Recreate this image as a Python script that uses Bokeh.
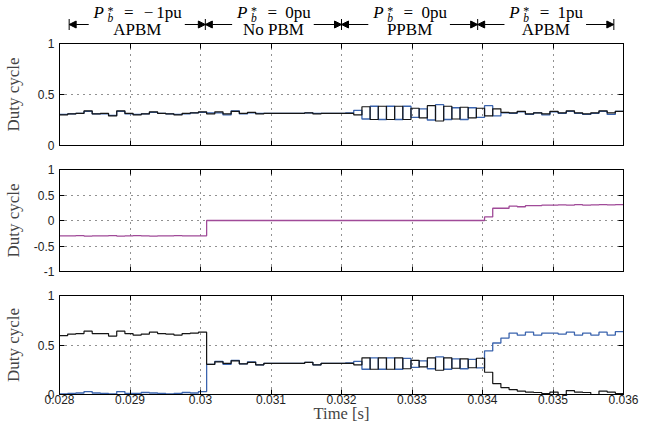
import numpy as np
from bokeh.plotting import figure
from bokeh.layouts import column
from bokeh.models import Range1d, FixedTicker, LinearAxis, Label, Arrow, NormalHead
from bokeh.core.properties import value
from bokeh.embed import file_html
from bokeh.resources import INLINE

# ---------------- data ----------------
t_start = 0.028
t_end = 0.036
n_steps = 69
x_ticks = [0.028, 0.029, 0.030, 0.031, 0.032, 0.033, 0.034, 0.035, 0.036]
x_tick_labels = ["0.028", "0.029", "0.03", "0.031", "0.032", "0.033", "0.034", "0.035", "0.036"]

ya_ticks = [0, 0.5, 1]
ya_labels = ["0", "0.5", "1"]
yb_ticks = [-1, -0.5, 0, 0.5, 1]
yb_labels = ["-1", "-0.5", "0", "0.5", "1"]

seg_bounds = [0.028, 0.030, 0.032, 0.034, 0.036]
seg_power = ["\u22121pu", "0pu", "0pu", "1pu"]
seg_mode = ["APBM", "No PBM", "PPBM", "APBM"]
panel_tags = ["(a)", "(b)", "(c)"]

a_black = [0.30, 0.31, 0.315, 0.34, 0.31, 0.315, 0.29, 0.34, 0.315, 0.30, 0.31, 0.33, 0.315, 0.31, 0.30, 0.315, 0.32, 0.33,
           0.31, 0.33, 0.31, 0.335, 0.315, 0.325, 0.31, 0.315, 0.315, 0.315, 0.315, 0.315, 0.32, 0.31, 0.315, 0.315, 0.315, 0.315,
           0.30, 0.38, 0.255, 0.385, 0.255, 0.385, 0.255, 0.365, 0.27, 0.39, 0.24, 0.385, 0.26, 0.375, 0.27, 0.365, 0.29, 0.36,
           0.325, 0.32, 0.335, 0.31, 0.32, 0.31, 0.335, 0.32, 0.34, 0.32, 0.31, 0.32, 0.34, 0.32, 0.335]
a_blue = [0.305, 0.31, 0.315, 0.335, 0.31, 0.31, 0.295, 0.335, 0.31, 0.305, 0.31, 0.325, 0.315, 0.31, 0.305, 0.31, 0.32, 0.325,
          0.32, 0.32, 0.30, 0.34, 0.31, 0.32, 0.315, 0.315, 0.315, 0.315, 0.315, 0.315, 0.32, 0.315, 0.315, 0.315, 0.315, 0.32,
          0.345, 0.26, 0.385, 0.255, 0.385, 0.255, 0.385, 0.275, 0.36, 0.25, 0.40, 0.255, 0.37, 0.255, 0.37, 0.275, 0.39, 0.29,
          0.32, 0.315, 0.33, 0.305, 0.32, 0.30, 0.33, 0.315, 0.335, 0.315, 0.305, 0.315, 0.335, 0.305, 0.335]
b_line = [-0.30, -0.30, -0.295, -0.305, -0.30, -0.30, -0.295, -0.305, -0.30, -0.295, -0.30, -0.305, -0.30, -0.30, -0.295, -0.30, -0.30, -0.30,
          0.0, 0.0, 0.0, 0.0, 0.0, 0.0, 0.0, 0.0, 0.0, 0.0, 0.0, 0.0, 0.0, 0.0, 0.0, 0.0, 0.0, 0.0,
          0.0, 0.0, 0.0, 0.0, 0.0, 0.0, 0.0, 0.0, 0.0, 0.0, 0.0, 0.0, 0.0, 0.0, 0.0, 0.0,
          0.07, 0.24, 0.24, 0.28, 0.27, 0.29, 0.29, 0.30, 0.30, 0.305, 0.30, 0.31, 0.30, 0.305, 0.31, 0.305, 0.31]
c_black = [0.595, 0.61, 0.615, 0.64, 0.615, 0.615, 0.59, 0.64, 0.615, 0.60, 0.61, 0.63, 0.615, 0.61, 0.60, 0.615, 0.62, 0.63,
           0.305, 0.33, 0.315, 0.34, 0.31, 0.325, 0.30, 0.315, 0.315, 0.315, 0.315, 0.315, 0.325, 0.30, 0.315, 0.315, 0.315, 0.315,
           0.30, 0.37, 0.255, 0.37, 0.255, 0.37, 0.26, 0.345, 0.28, 0.37, 0.245, 0.37, 0.265, 0.36, 0.27, 0.366,
           0.225, 0.11, 0.07, 0.05, 0.035, 0.025, 0.02, 0.01, 0.025, 0.0, 0.04, 0.025, 0.02, 0.0, 0.035, 0.025, 0.01]
c_blue = [0.005, 0.01, 0.015, 0.03, 0.015, 0.01, 0.005, 0.03, 0.01, 0.01, 0.02, 0.015, 0.01, 0.005, 0.01, 0.02, 0.015, 0.03,
          0.305, 0.335, 0.305, 0.345, 0.31, 0.33, 0.30, 0.315, 0.315, 0.315, 0.315, 0.315, 0.325, 0.30, 0.315, 0.315, 0.315, 0.32,
          0.335, 0.255, 0.37, 0.255, 0.37, 0.255, 0.365, 0.275, 0.34, 0.26, 0.38, 0.255, 0.36, 0.26, 0.355, 0.268,
          0.44, 0.52, 0.57, 0.62, 0.60, 0.63, 0.60, 0.62, 0.62, 0.61, 0.63, 0.60, 0.62, 0.60, 0.63, 0.60, 0.635]

# ---------------- style / layout ----------------
SERIF = "Liberation Serif"
SANS = "Liberation Sans"
COL_BLACK = "#151515"
COL_BLUE = "#3b64ae"
COL_PURPLE = "#a04a98"
FIG_W = 643
BORDER_L = 59
FRAME_W = 564
BORDER_R = FIG_W - BORDER_L - FRAME_W
FRAME_H = 102
HDR_H = 38
ppu = FRAME_W / (t_end - t_start)

edges = np.linspace(t_start, t_end, n_steps + 1)


def stepped(vals):
    return list(vals) + [vals[-1]]


def make_panel(y_lo, y_hi, yticks, ylabels, tag, top, bottom, lab_standoff, show_x):
    p = figure(width=FIG_W, height=top + FRAME_H + bottom,
               x_range=Range1d(t_start, t_end), y_range=Range1d(y_lo, y_hi),
               output_backend="svg", toolbar_location=None,
               min_border_left=BORDER_L, min_border_right=BORDER_R,
               min_border_top=top, min_border_bottom=bottom)
    p.outline_line_color = "black"
    p.outline_line_width = 1
    p.background_fill_color = "white"
    p.border_fill_color = "white"

    xa = p.xaxis[0]
    xa.ticker = FixedTicker(ticks=x_ticks)
    if show_x:
        xa.major_label_overrides = dict(zip(x_ticks, x_tick_labels))
        xa.major_label_text_font = SANS
        xa.major_label_text_font_size = "12px"
        xa.major_label_text_color = "#222222"
        xa.major_label_standoff = 0
        xa.axis_label = "Time [s]"
        xa.axis_label_text_font = SERIF
        xa.axis_label_text_font_style = "normal"
        xa.axis_label_text_font_size = "16.5px"
        xa.axis_label_standoff = -3
    else:
        xa.major_label_overrides = {t: "" for t in x_ticks}
        xa.major_label_text_font_size = "0px"
        xa.major_label_standoff = 0
    xa.major_tick_in = 5
    xa.major_tick_out = 0
    xa.minor_tick_line_color = None
    xa.axis_line_color = "black"

    ya = p.yaxis[0]
    ya.ticker = FixedTicker(ticks=yticks)
    ya.major_label_overrides = dict(zip(yticks, ylabels))
    ya.major_label_text_font = SANS
    ya.major_label_text_font_size = "12px"
    ya.major_label_text_color = "#222222"
    ya.major_label_standoff = 5
    ya.major_tick_in = 5
    ya.major_tick_out = 0
    ya.minor_tick_line_color = None
    ya.axis_line_color = "black"
    ya.axis_label = "Duty cycle"
    ya.axis_label_text_font = SERIF
    ya.axis_label_text_font_style = "normal"
    ya.axis_label_text_font_size = "17px"
    ya.axis_label_standoff = lab_standoff

    ar = LinearAxis(ticker=FixedTicker(ticks=yticks),
                    major_label_overrides={t: "" for t in yticks},
                    major_label_text_font_size="0px", major_label_standoff=0,
                    major_tick_in=5, major_tick_out=0, minor_tick_line_color=None,
                    axis_line_color="black")
    p.add_layout(ar, "right")
    at = LinearAxis(ticker=FixedTicker(ticks=x_ticks),
                    major_label_overrides={t: "" for t in x_ticks},
                    major_label_text_font_size="0px", major_label_standoff=0,
                    major_tick_in=5, major_tick_out=0, minor_tick_line_color=None,
                    axis_line_color="black")
    p.add_layout(at, "above")

    p.xgrid.ticker = FixedTicker(ticks=x_ticks[1:-1])
    p.ygrid.ticker = FixedTicker(ticks=yticks[1:-1])
    for g in (p.xgrid[0], p.ygrid[0]):
        g.grid_line_color = "#222222"
        g.grid_line_dash = "1 5"
        g.grid_line_width = 1

    ppy = FRAME_H / (y_hi - y_lo)
    p.add_layout(Label(x=t_end + 2.5 / ppu, y=(y_lo + y_hi) / 2 - 1.5 / ppy, text=tag,
                       text_font=SERIF, text_font_size="15.5px", text_baseline="middle",
                       text_align="left", text_color="black"))
    return p


pa = make_panel(0, 1, ya_ticks, ya_labels, panel_tags[0], 5, 17, 12, False)
pb = make_panel(-1, 1, yb_ticks, yb_labels, panel_tags[1], 7, 17, 8, False)
pc = make_panel(0, 1, ya_ticks, ya_labels, panel_tags[2], 7, 28, 12, True)

pa.step(edges, stepped(a_blue), mode="after", line_color=COL_BLUE, line_width=1.3)
pa.step(edges, stepped(a_black), mode="after", line_color=COL_BLACK, line_width=1.2)
pb.step(edges, stepped(b_line), mode="after", line_color=COL_PURPLE, line_width=1.3)
pc.step(edges, stepped(c_blue), mode="after", line_color=COL_BLUE, line_width=1.3)
pc.step(edges, stepped(c_black), mode="after", line_color=COL_BLACK, line_width=1.2)

# ---------------- header figure (segment annotations) ----------------
PAD = 10
hdr = figure(width=FIG_W, height=HDR_H,
             x_range=Range1d(t_start - PAD / ppu, t_end + PAD / ppu), y_range=Range1d(HDR_H, 0),
             output_backend="svg", toolbar_location=None,
             x_axis_location=None, y_axis_location=None,
             min_border_left=BORDER_L - PAD, min_border_right=BORDER_R - PAD,
             min_border_top=0, min_border_bottom=0)
hdr.outline_line_color = None
hdr.grid.visible = False

FIX = 0.3          # rendered baseline sits lower than requested by about 0.3 em
FS = 17            # main font size (px)
SUB_FS = 11.5
SUP_FS = 12
BASE_Y = 17.5 - FIX * FS
SUB_Y = 20.5 - FIX * SUB_FS
SUP_Y = 14.5 - FIX * SUP_FS
MODE_Y = 34.0 - FIX * FS
ARROW_Y = 24.0

P_x, sub_x, eq_x, minus_x, pw_x, pw_txt = [], [], [], [], [], []
arrows = []
for i in range(4):
    b0, b1 = seg_bounds[i], seg_bounds[i + 1]
    xc = (b0 + b1) / 2
    s = seg_power[i]
    neg = s.startswith("\u2212")
    body = s[1:] if neg else s
    body_start = 65 if neg else 50
    W = body_start + 0.5 * FS * len(body)
    x0 = xc - W / 2 / ppu
    P_x.append(x0)
    sub_x.append(x0 + 14.5 / ppu)
    eq_x.append(x0 + 36.5 / ppu)
    if neg:
        minus_x.append(x0 + 57 / ppu)
    pw_x.append(x0 + body_start / ppu)
    pw_txt.append(body)
    arrows.append((x0 - 5 / ppu, b0))
    arrows.append((x0 + (W + 4) / ppu, b1))

txt_common = dict(text_font=value(SERIF), text_color="black", text_baseline="alphabetic")
hdr.text(x=P_x, y=[BASE_Y] * 4, text=["P"] * 4, text_font_size="17px",
         text_font_style="italic", text_align="left", **txt_common)
hdr.text(x=sub_x, y=[SUB_Y] * 4, text=["b"] * 4, text_font_size="11.5px",
         text_font_style="italic", text_align="left", **txt_common)
hdr.text(x=sub_x, y=[SUP_Y] * 4, text=["*"] * 4, text_font_size="12px",
         text_align="left", **txt_common)
hdr.text(x=eq_x, y=[BASE_Y] * 4, text=["="] * 4, text_font_size="17px",
         text_align="center", **txt_common)
hdr.text(x=minus_x, y=[BASE_Y] * len(minus_x), text=["\u2212"] * len(minus_x), text_font_size="17px",
         text_align="center", **txt_common)
hdr.text(x=pw_x, y=[BASE_Y] * 4, text=pw_txt, text_font_size="17px",
         text_align="left", **txt_common)
mode_x = [(seg_bounds[i] + seg_bounds[i + 1]) / 2 for i in range(4)]
hdr.text(x=mode_x, y=[MODE_Y] * 4, text=seg_mode, text_font_size="17px",
         text_align="center", **txt_common)

for xs, xe in arrows:
    hdr.add_layout(Arrow(x_start=xs, y_start=ARROW_Y, x_end=xe, y_end=ARROW_Y,
                         line_color="black", line_width=1,
                         end=NormalHead(size=7, fill_color="black", line_color="black", line_width=1)))
hdr.segment(x0=seg_bounds, y0=[ARROW_Y - 5.5] * 5, x1=seg_bounds, y1=[ARROW_Y + 5.5] * 5,
            line_color="black", line_width=1)

layout = column(hdr, pa, pb, pc, spacing=0)
open("out.html", "w").write(file_html(layout, INLINE))
